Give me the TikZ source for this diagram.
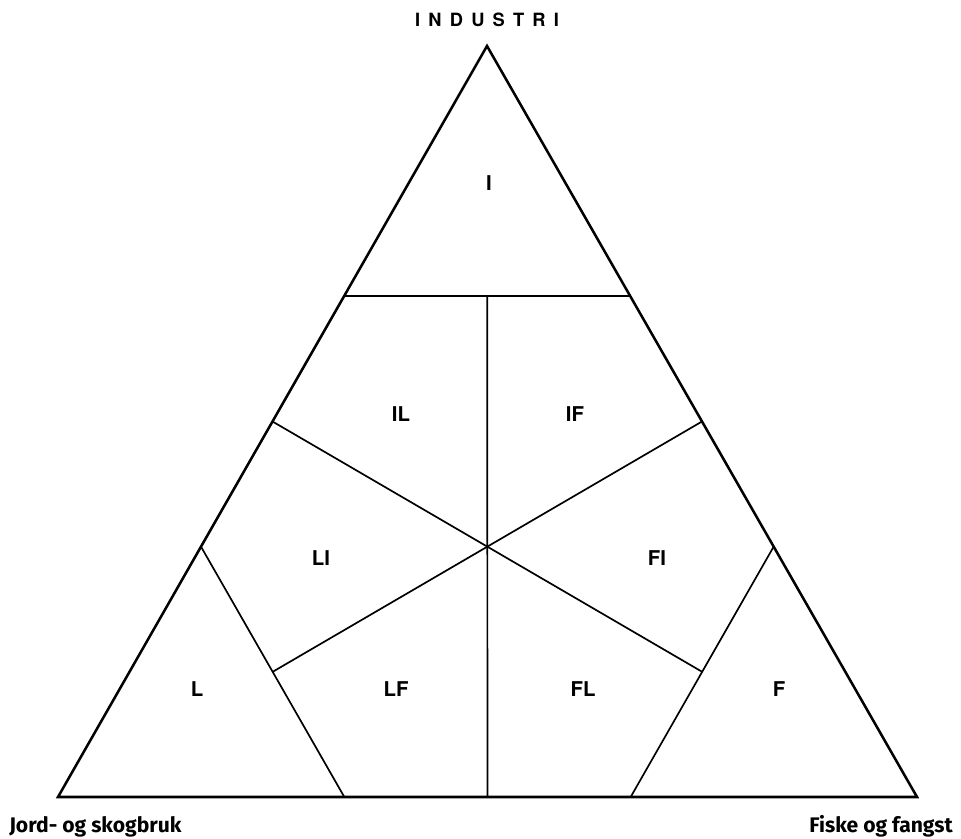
\documentclass[tikz,border=0pt]{standalone}
\usepackage{fontspec}
\setmainfont{TeX Gyre Heros}
\newfontfamily\spacedfont[LetterSpace=45]{TeX Gyre Heros}
\newfontfamily\cornerfont{Fira Sans}
\usetikzlibrary{calc}

\tikzset{
    side/.style={line width=1.8pt,line join=miter},
    cut/.style={line width=1.2pt},
    region/.style={font=\bfseries\fontsize{14.5}{17}\selectfont},
    corner/.style={font=\cornerfont\bfseries\fontsize{15}{17}\selectfont}
}

\begin{document}
\begin{tikzpicture}[x=0.025cm,y=0.025cm]
                \useasboundingbox (0,0) rectangle (961,839);
                % corners of the triangle
                \coordinate (T) at (487,793);
                \coordinate (L) at (58,42);
                \coordinate (R) at (917,42);
                \coordinate (mB) at ($(L)!0.5!(R)$);
                \coordinate (mL) at ($(L)!0.5!(T)$);
                \coordinate (mR) at ($(R)!0.5!(T)$);

                \draw[side] (T)--(L)--(R)--cycle;

                % lines parallel to the sides, one third from each corner
                \draw[cut] ($(T)!1/3!(L)$)--($(T)!1/3!(R)$);
                \draw[cut] ($(L)!1/3!(T)$)--($(L)!1/3!(R)$);
                \draw[cut] ($(R)!1/3!(T)$)--($(R)!1/3!(L)$);

                % medians, stopped at the cuts
                \draw[cut] (mB)--($(T)!1/3!(mB)$);
                \draw[cut] (mL)--($(R)!1/3!(mL)$);
                \draw[cut] (mR)--($(L)!1/3!(mR)$);

                \node[region] (lblI) at (489,656) {I};
                \node[region] (lblIL) at (401,425) {IL};
                \node[region] (lblIF) at (575,425) {IF};
                \node[region] (lblLI) at (321,281) {LI};
                \node[region] (lblFI) at (657,281) {FI};
                \node[region] (lblL) at (197,150) {L};
                \node[region] (lblLF) at (396,150) {LF};
                \node[region] (lblFL) at (583,150) {FL};
                \node[region] (lblF) at (779,150) {F};

                \node[anchor=base,font=\spacedfont\bfseries\fontsize{13}{16}\selectfont] (top) at (487,812) {INDUSTRI};
                \node[corner,anchor=base west,inner sep=0pt] (left) at (9,6) {Jord- og skogbruk};
                \node[corner,anchor=base east,inner sep=0pt] (right) at (953,6) {Fiske og fangst};
\end{tikzpicture}
\end{document}
